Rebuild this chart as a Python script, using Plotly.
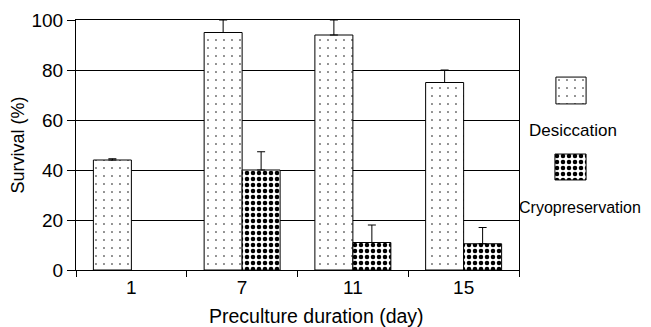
import plotly.graph_objects as go

categories = ["1", "7", "11", "15"]
desiccation = [44, 95, 94, 75]
desiccation_err = [0.5, 5, 6, 5]
cryo = [None, 40, 11, 10.5]
cryo_err = [0, 7.3, 7, 6.5]
series_names = ["Desiccation", "Cryopreservation"]
y_ticks = [0, 20, 40, 60, 80, 100]

FONT = "Liberation Sans, Arial, sans-serif"
OFF = 8  # page body margin
W, H = 651 - OFF, 327 - OFF
L, R, T, B = 76, 519, 20, 270

dot_pattern = dict(shape=".", size=8, solidity=0.03, fgcolor="black", fgopacity=1,
                   bgcolor="white", fillmode="overlay")
check_pattern = dict(shape=".", size=6, solidity=0.45, fgcolor="black", fgopacity=1,
                     bgcolor="white", fillmode="overlay")

def px_x(v):
    return (v - OFF) / W

def px_y(v):
    return 1 - (v - OFF) / H

fig = go.Figure()
fig.add_trace(go.Bar(
    x=categories, y=desiccation, name=series_names[0],
    marker=dict(color="white", line=dict(color="black", width=1), pattern=dot_pattern),
    error_y=dict(type="data", array=desiccation_err, arrayminus=[0] * 4, symmetric=False,
                 color="black", thickness=1, width=4),
    showlegend=False,
))
fig.add_trace(go.Bar(
    x=categories, y=cryo, name=series_names[1],
    marker=dict(color="white", line=dict(color="black", width=1), pattern=check_pattern),
    error_y=dict(type="data", array=cryo_err, arrayminus=[0] * 4, symmetric=False,
                 color="black", thickness=1, width=4),
    showlegend=False,
))

# legend swatches as small bars on their own axes
fig.add_trace(go.Bar(x=[0], y=[1], width=[1], xaxis="x2", yaxis="y2", showlegend=False,
                     marker=dict(color="white", line=dict(color="black", width=1), pattern=dot_pattern),
                     hoverinfo="skip"))
fig.add_trace(go.Bar(x=[0], y=[1], width=[1], xaxis="x3", yaxis="y3", showlegend=False,
                     marker=dict(color="white", line=dict(color="black", width=1), pattern=check_pattern),
                     hoverinfo="skip"))

hidden = dict(visible=False, showgrid=False, zeroline=False, fixedrange=True)

fig.update_layout(
    width=W, height=H,
    margin=dict(l=0, r=0, t=0, b=0, pad=0, autoexpand=False),
    paper_bgcolor="white", plot_bgcolor="white",
    barmode="group", bargap=0.314, bargroupgap=0,
    font=dict(family=FONT, size=19, color="black"),
    xaxis=dict(
        domain=[px_x(L), px_x(R)], anchor="y", automargin=False,
        type="category", categoryorder="array", categoryarray=categories,
        showline=True, linecolor="black", linewidth=1, mirror=True,
        ticks="outside", tickson="boundaries", ticklen=6, tickcolor="black", tickwidth=1,
        showgrid=False, tickfont=dict(size=19), fixedrange=True,
    ),
    yaxis=dict(
        domain=[px_y(B), px_y(T)], anchor="x", automargin=False,
        range=[0, 100], tickvals=y_ticks,
        showline=True, linecolor="black", linewidth=1, mirror=True,
        ticks="outside", ticklen=8, tickcolor="black", tickwidth=1,
        showgrid=True, gridcolor="black", gridwidth=1, zeroline=False,
        tickfont=dict(size=19), fixedrange=True,
    ),
    xaxis2=dict(domain=[px_x(555), px_x(587)], range=[-0.53, 0.53], anchor="y2", **hidden),
    yaxis2=dict(domain=[px_y(105), px_y(76)], range=[-0.04, 1.04], anchor="x2", **hidden),
    xaxis3=dict(domain=[px_x(554), px_x(587)], range=[-0.53, 0.53], anchor="y3", **hidden),
    yaxis3=dict(domain=[px_y(181), px_y(153)], range=[-0.04, 1.04], anchor="x3", **hidden),
    annotations=[
        dict(text="Preculture duration (day)", x=px_x(316.5), y=px_y(316), xref="paper", yref="paper",
             xanchor="center", yanchor="middle", showarrow=False, font=dict(size=19.5)),
        dict(text="Survival (%)", x=px_x(17.5), y=px_y(145), xref="paper", yref="paper",
             xanchor="center", yanchor="middle", textangle=-90, showarrow=False, font=dict(size=18)),
        dict(text=series_names[0], x=px_x(572.5), y=px_y(130), xref="paper", yref="paper",
             xanchor="center", yanchor="middle", showarrow=False, font=dict(size=17)),
        dict(text=series_names[1], x=px_x(579.5), y=px_y(207), xref="paper", yref="paper",
             xanchor="center", yanchor="middle", showarrow=False, font=dict(size=16),
             borderpad=0),
    ],
)

fig.write_html("out.html")
